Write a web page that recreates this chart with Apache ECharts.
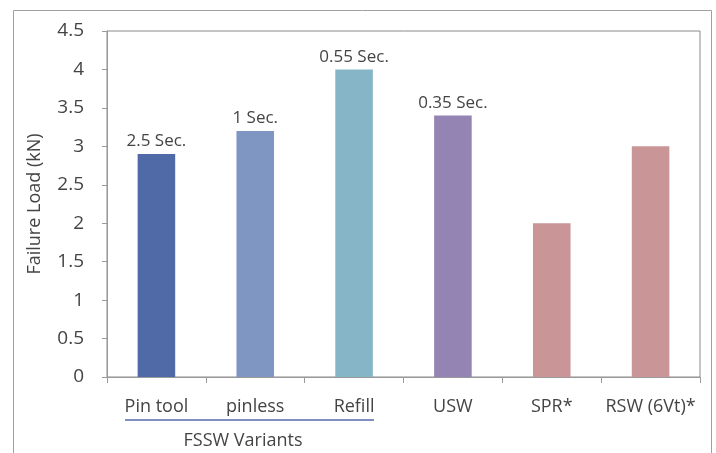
<!DOCTYPE html>
<html>
<head>
<meta charset="utf-8">
<script src="https://cdn.jsdelivr.net/npm/echarts@6/dist/echarts.min.js"></script>
<style>
html,body{margin:0;padding:0;background:#fff;}
#c{width:716px;height:453px;}
</style>
</head>
<body>
<div id="c"></div>
<script>
const categories = ['Pin tool', 'pinless', 'Refill', 'USW', 'SPR*', 'RSW (6Vt)*'];
const failureLoad = [2.9, 3.2, 4.0, 3.4, 2.0, 3.0];
const timeLabels = ['2.5 Sec.', '1 Sec.', '0.55 Sec.', '0.35 Sec.', '', ''];
const barColors = ['#4f6aa6', '#8096c2', '#87b5c8', '#9484b4', '#c99597', '#c99597'];
const yTicks = { min: 0, max: 4.5, interval: 0.5 };
const groupLabel = 'FSSW Variants';

const font = '"Open Sans", Lato, sans-serif';
const chart = echarts.init(document.getElementById('c'), null, { renderer: 'canvas' });
chart.setOption({
  animation: false,
  backgroundColor: '#fff',
  grid: { left: 107, right: 16, top: 31, bottom: 76, show: true, borderColor: '#8a8a8a', borderWidth: 1 },
  xAxis: {
    type: 'category',
    data: categories,
    axisLine: { lineStyle: { color: '#9a9a9a', width: 1 } },
    axisTick: { show: true, alignWithLabel: false, length: 6, lineStyle: { color: '#9a9a9a' } },
    axisLabel: { color: '#444', fontSize: 18, fontFamily: font, margin: 21, interval: 0 }
  },
  yAxis: {
    type: 'value',
    min: yTicks.min, max: yTicks.max, interval: yTicks.interval,
    name: 'Failure Load (kN)',
    nameLocation: 'middle',
    nameRotate: 90,
    nameGap: 63,
    nameTextStyle: { color: '#444', fontSize: 18, fontFamily: font },
    axisLine: { show: true, lineStyle: { color: '#9a9a9a' } },
    axisTick: { show: true, length: 5, lineStyle: { color: '#9a9a9a' } },
    splitLine: { show: false },
    axisLabel: { color: '#444', fontSize: 19, fontFamily: font, margin: 23 }
  },
  series: [{
    type: 'bar',
    barWidth: '38%',
    data: failureLoad.map((v, i) => ({ value: v, itemStyle: { color: barColors[i] } })),
    label: {
      show: true,
      position: 'top',
      distance: 4,
      color: '#444',
      fontSize: 17,
      fontFamily: font,
      formatter: p => timeLabels[p.dataIndex]
    }
  }],
  graphic: [
    { type: 'rect', shape: { x: 13.5, y: 10.5, width: 698, height: 460 }, style: { fill: 'none', stroke: '#a0a0a0', lineWidth: 1 }, silent: true, z: -1 },
    { type: 'line', shape: { x1: 125, y1: 420, x2: 374, y2: 420 }, style: { stroke: '#7f8fc0', lineWidth: 2 } },
    { type: 'text', x: 243, y: 441, style: { text: groupLabel, fill: '#444', font: '18px ' + font, align: 'center', verticalAlign: 'middle' } }
  ]
});
</script>
</body>
</html>
